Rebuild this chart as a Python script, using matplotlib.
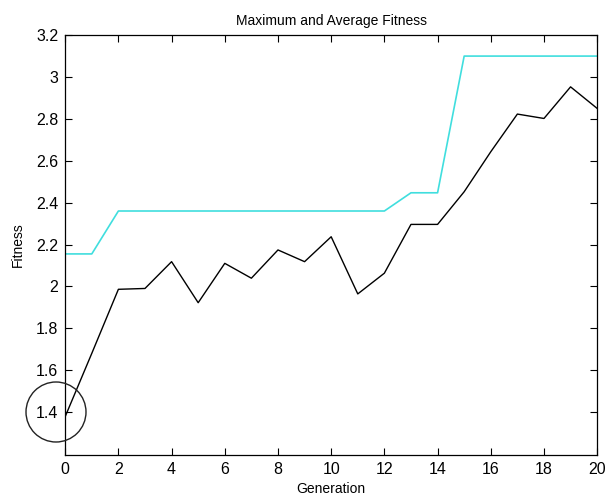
import matplotlib
matplotlib.use("Agg")
import matplotlib.pyplot as plt
from matplotlib.patches import Circle

generations = list(range(21))
max_fitness = [2.155, 2.155, 2.36, 2.36, 2.36, 2.36, 2.36, 2.36, 2.36, 2.36, 2.36,
               2.36, 2.36, 2.447, 2.447, 3.10, 3.10, 3.10, 3.10, 3.10, 3.10]
avg_fitness = [1.378, 1.68, 1.986, 1.99, 2.118, 1.922, 2.11, 2.039, 2.174, 2.118, 2.237,
               1.964, 2.063, 2.296, 2.296, 2.452, 2.643, 2.823, 2.802, 2.953, 2.85]
xticks = [0, 2, 4, 6, 8, 10, 12, 14, 16, 18, 20]
yticks = [1.4, 1.6, 1.8, 2.0, 2.2, 2.4, 2.6, 2.8, 3.0, 3.2]
ytick_labels = ["1.4", "1.6", "1.8", "2", "2.2", "2.4", "2.6", "2.8", "3", "3.2"]

plt.rcParams['font.family'] = ['Liberation Sans', 'DejaVu Sans']

fig = plt.figure(figsize=(6.15, 4.95), dpi=100)
ax = fig.add_axes([0.106, 0.081, 0.865, 0.848])

ax.plot(generations, max_fitness, color='#40dede', lw=1.2)
ax.plot(generations, avg_fitness, color='black', lw=1.0)

ax.set_xlim(0, 20)
ax.set_ylim(1.195, 3.2)
ax.set_xticks(xticks)
ax.set_yticks(yticks)
ax.set_yticklabels(ytick_labels)
ax.tick_params(direction='in', length=5, width=0.8, top=True, right=True,
               labelsize=11.5, pad=5, colors='black')
for s in ax.spines.values():
    s.set_linewidth(0.9)

ax.set_title("Maximum and Average Fitness", fontsize=10, pad=7)
ax.set_xlabel("Generation", fontsize=10, labelpad=4)
ax.set_ylabel("Fitness", fontsize=10, labelpad=8)

circ = Circle((0.56, 0.83), 0.30, transform=fig.dpi_scale_trans,
              fill=False, edgecolor='#222222', lw=1.0)
fig.add_artist(circ)

fig.savefig("out.png", dpi=100)
